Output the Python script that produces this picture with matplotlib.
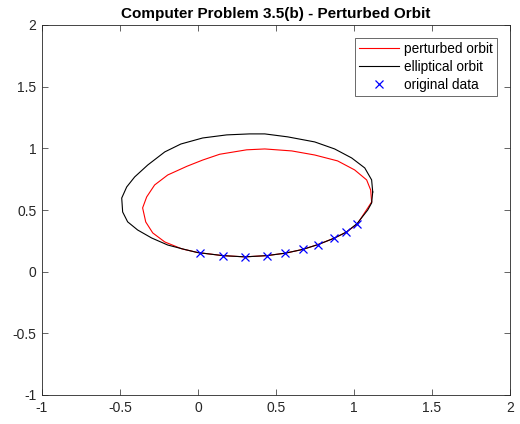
import matplotlib
matplotlib.use("Agg")
import matplotlib.pyplot as plt

plt.rcParams['font.family'] = ['Liberation Sans', 'DejaVu Sans']

# original data points
data_x = [1.02, 0.95, 0.87, 0.77, 0.67, 0.56, 0.44, 0.30, 0.16, 0.01]
data_y = [0.39, 0.32, 0.27, 0.22, 0.18, 0.15, 0.13, 0.12, 0.13, 0.15]

# elliptical orbit
ell_x = [1.120, 1.113, 1.069, 0.985, 0.876, 0.748, 0.575, 0.428, 0.331, 0.184, 0.030,
         -0.11, -0.213, -0.322, -0.406, -0.457, -0.489, -0.483, -0.451, -0.387, -0.297,
         -0.194, -0.085, -0.002, 0.16, 0.30, 0.44, 0.56, 0.67, 0.77, 0.87, 0.95, 1.02,
         1.088, 1.113, 1.120]
ell_y = [0.646, 0.744, 0.841, 0.922, 0.995, 1.052, 1.093, 1.117, 1.117, 1.109, 1.084,
         1.035, 0.971, 0.865, 0.768, 0.687, 0.597, 0.484, 0.404, 0.338, 0.273,
         0.216, 0.180, 0.155, 0.13, 0.12, 0.13, 0.15, 0.18, 0.22, 0.27, 0.32, 0.39,
         0.500, 0.557, 0.646]

# perturbed orbit
per_x = [1.113, 1.107, 1.081, 1.004, 0.895, 0.748, 0.601, 0.428, 0.312, 0.139, 0.030,
         -0.07, -0.194, -0.278, -0.329, -0.355, -0.335, -0.290, -0.213, -0.104,
         -0.002, 0.16, 0.30, 0.44, 0.56, 0.67, 0.77, 0.87, 0.95, 1.02, 1.088, 1.113]
per_y = [0.565, 0.662, 0.744, 0.825, 0.898, 0.946, 0.979, 0.995, 0.988, 0.952, 0.905,
         0.855, 0.784, 0.703, 0.606, 0.517, 0.403, 0.314, 0.241, 0.185,
         0.155, 0.13, 0.12, 0.13, 0.15, 0.18, 0.22, 0.27, 0.32, 0.385, 0.516, 0.565]

fig = plt.figure(figsize=(5.2, 4.24), dpi=100)
ax = fig.add_axes([42/520, 29/424, 468/520, 370/424])

ax.plot(per_x, per_y, color='red', lw=0.8, label='perturbed orbit')
ax.plot(ell_x, ell_y, color='black', lw=0.8, label='elliptical orbit')
ax.plot(data_x, data_y, 'x', color='blue', ms=6, mew=0.9, label='original data')

ax.set_xlim(-1, 2)
ax.set_ylim(-1, 2)
ax.set_xticks([-1, -0.5, 0, 0.5, 1, 1.5, 2])
ax.set_yticks([-1, -0.5, 0, 0.5, 1, 1.5, 2])
ax.set_xticklabels(['-1', '-0.5', '0', '0.5', '1', '1.5', '2'])
ax.set_yticklabels(['-1', '-0.5', '0', '0.5', '1', '1.5', '2'])
ax.tick_params(direction='in', top=True, right=True, labelsize=10, length=4,
               width=0.5, colors='0.15', pad=4)
for s in ax.spines.values():
    s.set_linewidth(0.6)
    s.set_color('0.15')

ax.set_title('Computer Problem 3.5(b) - Perturbed Orbit', fontsize=11,
             fontweight='bold', pad=5)

leg = ax.legend(loc='upper right', fontsize=9.8, frameon=True, fancybox=False,
                borderaxespad=0.95, handlelength=2.9, handletextpad=0.4,
                borderpad=0.3, labelspacing=0.3)
leg.get_frame().set_edgecolor('0.15')
leg.get_frame().set_linewidth(0.6)

fig.savefig('out.png', dpi=100)
